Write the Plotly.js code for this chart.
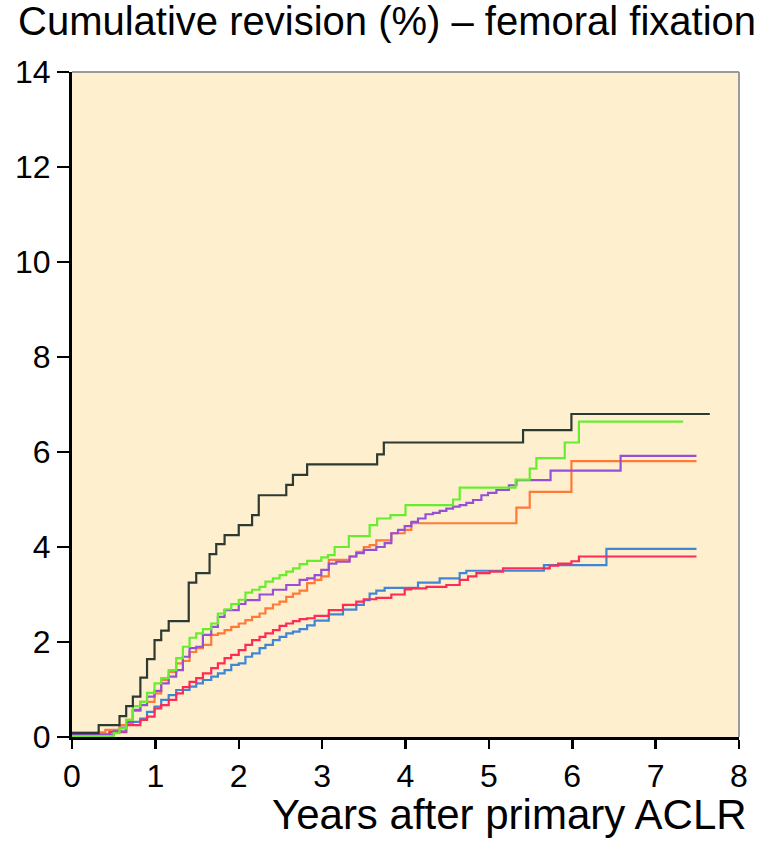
<!DOCTYPE html>
<html>
<head>
<meta charset="utf-8">
<script src="https://cdn.plot.ly/plotly-3.0.1.min.js"></script>
<style>html,body{margin:0;padding:0;background:#fff;}#chart{width:769px;height:841px;}</style>
</head>
<body>
<div id="chart"></div>
<script>
// Cumulative revision (%) by years after primary ACLR, femoral fixation groups
var blackX = [0, 0.32, 0.57, 0.65, 0.73, 0.82, 0.90, 0.99, 1.07, 1.16, 1.40, 1.49, 1.65, 1.73, 1.83, 2.00, 2.16, 2.24, 2.57, 2.65, 2.82, 3.66, 3.74, 5.41, 5.99, 7.65];
var blackY = [0.08, 0.25, 0.44, 0.65, 0.85, 1.25, 1.64, 2.04, 2.24, 2.44, 3.25, 3.45, 3.85, 4.06, 4.25, 4.46, 4.67, 5.09, 5.31, 5.52, 5.74, 5.95, 6.20, 6.46, 6.80, 6.80];

var greenX = [0, 0.50, 0.57, 0.65, 0.73, 0.82, 0.90, 0.99, 1.07, 1.16, 1.25, 1.33, 1.41, 1.49, 1.57, 1.67, 1.75, 1.83, 1.91, 2.00, 2.08, 2.16, 2.25, 2.32, 2.41, 2.49, 2.57, 2.65, 2.73, 2.82, 2.99, 3.07, 3.15, 3.32, 3.57, 3.66, 3.82, 4.00, 4.57, 4.65, 5.32, 5.49, 5.57, 5.91, 6.08, 7.33];
var greenY = [0.02, 0.08, 0.18, 0.36, 0.65, 0.74, 0.93, 1.13, 1.24, 1.41, 1.66, 1.90, 2.09, 2.18, 2.27, 2.39, 2.60, 2.69, 2.80, 2.89, 3.04, 3.10, 3.16, 3.27, 3.34, 3.41, 3.48, 3.55, 3.64, 3.71, 3.78, 3.83, 4.00, 4.23, 4.46, 4.60, 4.67, 4.88, 5.00, 5.25, 5.42, 5.65, 5.87, 6.20, 6.64, 6.64];

var purpleX = [0, 0.50, 0.65, 0.73, 0.82, 0.90, 0.99, 1.07, 1.16, 1.25, 1.33, 1.41, 1.49, 1.57, 1.67, 1.75, 1.83, 2.00, 2.08, 2.25, 2.41, 2.57, 2.73, 2.82, 2.91, 2.99, 3.08, 3.17, 3.33, 3.41, 3.50, 3.65, 3.75, 3.83, 3.91, 3.99, 4.07, 4.15, 4.24, 4.33, 4.41, 4.49, 4.57, 4.65, 4.73, 4.81, 4.91, 4.99, 5.09, 5.24, 5.33, 5.74, 6.58, 7.49];
var purpleY = [0.05, 0.12, 0.30, 0.57, 0.67, 0.85, 0.97, 1.13, 1.27, 1.41, 1.69, 1.87, 1.90, 2.15, 2.32, 2.53, 2.67, 2.80, 2.88, 3.00, 3.10, 3.20, 3.31, 3.34, 3.41, 3.52, 3.65, 3.69, 3.80, 3.87, 3.94, 4.00, 4.08, 4.29, 4.36, 4.44, 4.53, 4.60, 4.69, 4.72, 4.76, 4.81, 4.85, 4.88, 4.93, 4.99, 5.09, 5.14, 5.20, 5.30, 5.41, 5.61, 5.92, 5.92];

var orangeX = [0, 0.40, 0.57, 0.65, 0.73, 0.82, 0.99, 1.07, 1.16, 1.25, 1.33, 1.41, 1.49, 1.57, 1.67, 1.75, 1.83, 1.91, 2.00, 2.08, 2.16, 2.25, 2.32, 2.41, 2.49, 2.57, 2.65, 2.73, 2.82, 2.91, 2.99, 3.08, 3.33, 3.41, 3.50, 3.57, 3.65, 3.83, 3.99, 4.07, 5.33, 5.49, 5.99, 7.49];
var orangeY = [0.10, 0.15, 0.25, 0.36, 0.55, 0.74, 0.92, 1.20, 1.37, 1.55, 1.60, 1.79, 1.87, 1.94, 2.15, 2.18, 2.25, 2.32, 2.39, 2.46, 2.53, 2.60, 2.71, 2.79, 2.85, 2.95, 3.02, 3.08, 3.24, 3.31, 3.38, 3.73, 3.80, 3.90, 4.00, 4.04, 4.14, 4.29, 4.36, 4.50, 4.83, 5.16, 5.81, 5.81];

var redX = [0, 0.45, 0.65, 0.82, 0.90, 0.99, 1.07, 1.16, 1.25, 1.33, 1.41, 1.49, 1.57, 1.67, 1.75, 1.83, 1.91, 2.00, 2.08, 2.16, 2.25, 2.32, 2.41, 2.49, 2.57, 2.65, 2.73, 2.82, 2.91, 3.08, 3.25, 3.41, 3.50, 3.65, 3.83, 3.99, 4.07, 4.25, 4.49, 4.65, 4.75, 4.85, 5.01, 5.17, 5.73, 5.83, 5.99, 6.08, 7.49];
var redY = [0.05, 0.10, 0.25, 0.36, 0.43, 0.60, 0.67, 0.78, 0.92, 1.05, 1.16, 1.24, 1.34, 1.45, 1.55, 1.66, 1.73, 1.83, 1.94, 2.04, 2.11, 2.18, 2.25, 2.34, 2.39, 2.44, 2.48, 2.50, 2.55, 2.67, 2.78, 2.85, 2.90, 2.93, 3.00, 3.11, 3.13, 3.16, 3.20, 3.31, 3.38, 3.45, 3.48, 3.55, 3.61, 3.65, 3.70, 3.80, 3.80];

var blueX = [0, 0.45, 0.57, 0.65, 0.82, 0.90, 0.99, 1.07, 1.16, 1.25, 1.41, 1.49, 1.57, 1.67, 1.75, 1.83, 1.91, 2.00, 2.08, 2.16, 2.25, 2.32, 2.41, 2.49, 2.57, 2.65, 2.73, 2.82, 2.91, 3.08, 3.25, 3.41, 3.50, 3.57, 3.65, 3.75, 4.15, 4.41, 4.65, 4.73, 5.66, 6.41, 7.49];
var blueY = [0.05, 0.12, 0.20, 0.32, 0.39, 0.53, 0.64, 0.78, 0.88, 0.99, 1.06, 1.13, 1.20, 1.27, 1.34, 1.41, 1.52, 1.55, 1.69, 1.76, 1.87, 1.94, 2.04, 2.11, 2.18, 2.22, 2.27, 2.35, 2.45, 2.58, 2.68, 2.78, 2.88, 3.02, 3.08, 3.14, 3.25, 3.34, 3.45, 3.50, 3.62, 3.96, 3.96];

var xTicks = [0, 1, 2, 3, 4, 5, 6, 7, 8];
var yTicks = [0, 2, 4, 6, 8, 10, 12, 14];

var FONT = "Liberation Sans, Arial, Helvetica, sans-serif";

function series(x, y, color) {
  return {x: x, y: y, type: 'scatter', mode: 'lines',
          line: {shape: 'hv', color: color, width: 2.2}, hoverinfo: 'skip', showlegend: false};
}

var data = [
  series(blueX, blueY, '#3f86d6'),
  series(redX, redY, '#ff2a55'),
  series(orangeX, orangeY, '#ff7a38'),
  series(purpleX, purpleY, '#9650d8'),
  series(greenX, greenY, '#66ee2e'),
  series(blackX, blackY, '#2d3a31')
];

var layout = {
  width: 769, height: 841,
  margin: {l: 72, r: 30, t: 72, b: 104, pad: 0},
  paper_bgcolor: '#ffffff',
  plot_bgcolor: '#fef0ce',
  font: {family: FONT, color: '#000'},
  title: {
    text: 'Cumulative revision (%) – femoral fixation',
    font: {family: FONT, size: 40, color: '#000'},
    x: 18 / 769, xanchor: 'left', xref: 'container',
    y: 1 - 21 / 841, yanchor: 'middle', yref: 'container'
  },
  xaxis: {
    range: [0, 8], tickvals: xTicks, ticktext: xTicks.map(String),
    ticks: 'outside', ticklen: 9, tickwidth: 2.5, tickcolor: '#000',
    showline: true, linecolor: '#000', linewidth: 3,
    showgrid: false, zeroline: false, fixedrange: true,
    tickfont: {family: FONT, size: 32, color: '#000'}
  },
  yaxis: {
    range: [0, 14], tickvals: yTicks, ticktext: yTicks.map(String),
    ticks: 'outside', ticklen: 12, tickwidth: 2.5, tickcolor: '#000',
    showline: true, linecolor: '#000', linewidth: 3,
    showgrid: false, zeroline: false, fixedrange: true,
    tickfont: {family: FONT, size: 32, color: '#000'}
  },
  shapes: [
    {type: 'line', xref: 'paper', yref: 'paper', x0: 0, x1: 1, y0: 1, y1: 1, line: {color: '#9a9a9a', width: 2}},
    {type: 'line', xref: 'paper', yref: 'paper', x0: 1, x1: 1, y0: 0, y1: 1, line: {color: '#9a9a9a', width: 2}}
  ],
  annotations: [
    {text: 'Years after primary ACLR', xref: 'paper', yref: 'paper',
     x: (749 - 72) / 667, xanchor: 'right', y: -(841 - 737 - 1) / 665, yanchor: 'bottom',
     showarrow: false, font: {family: FONT, size: 42, color: '#000'}}
  ]
};

Plotly.newPlot('chart', data, layout, {displayModeBar: false, staticPlot: true});
</script>
</body>
</html>
